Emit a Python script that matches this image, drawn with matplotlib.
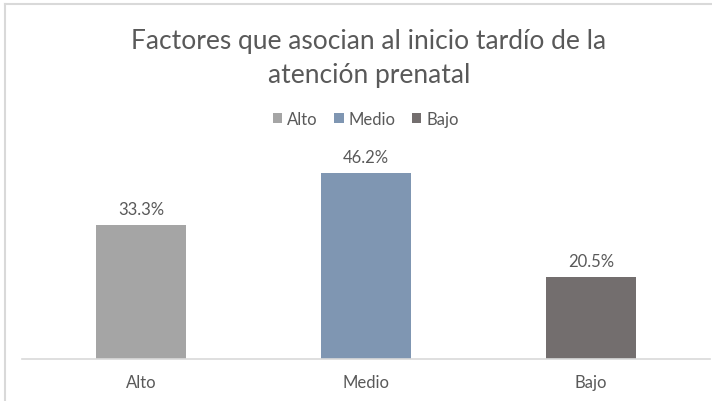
import numpy as np
import matplotlib.pyplot as plt
from matplotlib.lines import Line2D
from matplotlib.patches import Patch

categories = ["Alto", "Medio", "Bajo"]
values = [33.3, 46.2, 20.5]
labels = ["33.3%", "46.2%", "20.5%"]
colors = ["#A5A5A5", "#7F96B2", "#736E6E"]

plt.rcParams['font.family'] = ['Lato', 'DejaVu Sans']
textColor = "#595959"

fig = plt.figure(figsize=(7.12, 4.02), dpi=100)
ax = fig.add_axes([22/712, 1-360/402, (710-22)/712, 201/402])

x = np.arange(len(categories))
ax.bar(x, values, width=0.4, color=colors, zorder=2)
for i in range(len(values)):
    ax.text(x[i], values[i] + 2.0, labels[i], ha='center', va='bottom',
            fontsize=12, color=textColor)

ax.set_xlim(-0.53, 2.53)
ax.set_ylim(0, 50)
ax.set_yticks([])
ax.set_xticks(x)
ax.set_xticklabels(categories, fontsize=12, color=textColor)
ax.tick_params(axis='x', length=0, pad=11)
for s in ['top', 'right', 'left']:
    ax.spines[s].set_visible(False)
ax.spines['bottom'].set_color("#D9D9D9")
ax.spines['bottom'].set_linewidth(1.2)

# chart border (cut off on right and bottom)
fig.add_artist(Line2D([5/712, 1], [1-5/402, 1-5/402], color="#D9D9D9", lw=1.5))
fig.add_artist(Line2D([5/712, 5/712], [0, 1-5/402], color="#D9D9D9", lw=1.5))

fig.text(369/712, 1-42/402, "Factores que asocian al inicio tardío de la",
         ha='center', va='center', fontsize=19, color=textColor)
fig.text(369/712, 1-76/402, "atención prenatal",
         ha='center', va='center', fontsize=19, color=textColor)

handles = [Patch(facecolor=c) for c in colors]
fig.legend(handles, categories, loc='center', bbox_to_anchor=(366/712, 1-120/402),
           ncol=3, frameon=False, fontsize=12, labelcolor=textColor,
           handlelength=0.55, handleheight=0.55, handletextpad=0.3, columnspacing=1.0)

fig.savefig("out.png", dpi=100)
